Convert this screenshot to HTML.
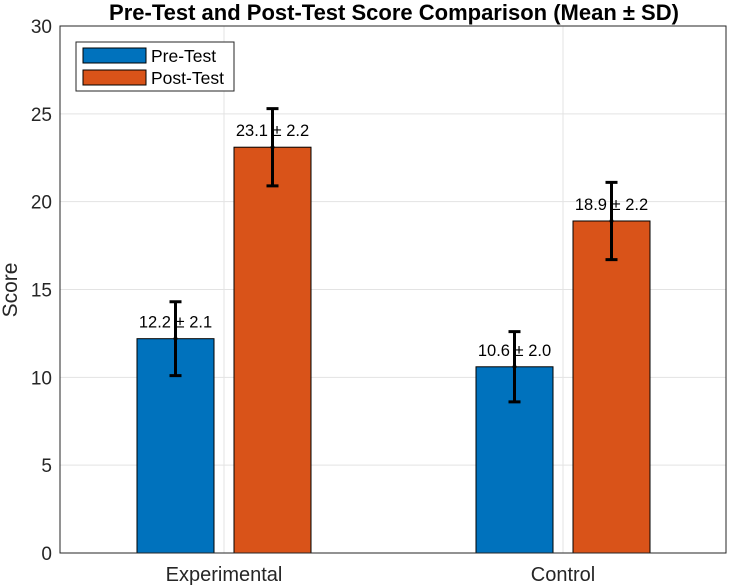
<!DOCTYPE html>
<html><head><meta charset="utf-8"><style>
html,body{margin:0;padding:0;background:#fff;}
svg{display:block;font-family:"Liberation Sans",Arial,sans-serif;}
</style></head><body>
<svg id="chart" width="729" height="587" viewBox="0 0 729 587"></svg>
<script>
const categories = ["Experimental", "Control"];
const seriesNames = ["Pre-Test", "Post-Test"];
const preMeans = [12.2, 10.6];
const postMeans = [23.1, 18.9];
const preSD = [2.1, 2.0];
const postSD = [2.2, 2.2];
const yTicks = [0, 5, 10, 15, 20, 25, 30];

const NS = "http://www.w3.org/2000/svg";
const svg = document.getElementById("chart");
const L = 60, R = 726, T = 26, B = 553;
const yMax = 30;
const y = v => B - v / yMax * (B - T);
const xCat = i => 224 + i * 339;
const barOff = 48.5, barW = 77;
const colors = ["#0072BD", "#D95319"];

function mk(tag, attrs, text) {
  const e = document.createElementNS(NS, tag);
  for (const k in attrs) e.setAttribute(k, attrs[k]);
  if (text !== undefined) e.textContent = text;
  svg.appendChild(e);
  return e;
}

const bg = mk("rect", {x: L, y: T, width: R - L, height: B - T, fill: "#fff"});



yTicks.forEach(t => {
  const g = mk("line", {x1: L, x2: R, y1: y(t), y2: y(t), stroke: "#e3e3e3", "stroke-width": 1});
  
  
  const lb = mk("text", {x: L - 8, y: y(t) + 7, "text-anchor": "end", "font-size": 19, fill: "#262626"}, String(t));
  
  
});
categories.forEach((c, i) => {
  const g = mk("line", {x1: xCat(i), x2: xCat(i), y1: T, y2: B, stroke: "#e3e3e3", "stroke-width": 1});
  
  
  const lb = mk("text", {x: xCat(i), y: B + 28, "text-anchor": "middle", "font-size": 20, fill: "#262626"}, c);
  
  
});

const series = [preMeans, postMeans];
const sds = [preSD, postSD];
series.forEach((vals, s) => {
  vals.forEach((v, i) => {
    const cx = xCat(i) + (s === 0 ? -barOff : barOff);
    const r = mk("rect", {x: cx - barW / 2, y: y(v), width: barW, height: B - y(v), fill: colors[s], stroke: "#000", "stroke-width": 1});
    
    
  });
});
series.forEach((vals, s) => {
  vals.forEach((v, i) => {
    const cx = xCat(i) + (s === 0 ? -barOff : barOff);
    const sd = sds[s][i];
    const lb = mk("text", {x: cx, y: y(v) - 11, "text-anchor": "middle", "font-size": 16.5, fill: "#000"}, v.toFixed(1) + " ± " + sd.toFixed(1));
    
    
  });
});
series.forEach((vals, s) => {
  vals.forEach((v, i) => {
    const cx = xCat(i) + (s === 0 ? -barOff : barOff);
    const sd = sds[s][i];
    const top = y(v + sd), bot = y(v - sd);
    const eb = mk("path", {d: `M${cx},${top}V${bot}M${cx-6},${top}H${cx+6}M${cx-6},${bot}H${cx+6}`, stroke: "#000", "stroke-width": 3, fill: "none"});
    
    
    const d = mk("circle", {cx: cx, cy: y(v), r: 2, fill: "#000"});
    
    
  });
});

const box = mk("rect", {x: L, y: T, width: R - L, height: B - T, fill: "none", stroke: "#262626", "stroke-width": 1});



const title = mk("text", {x: 394, y: 20, "text-anchor": "middle", "font-size": 22, "font-weight": "bold", fill: "#000"}, "Pre-Test and Post-Test Score Comparison (Mean ± SD)");


const yl = mk("text", {x: 0, y: 0, transform: "translate(17,290) rotate(-90)", "text-anchor": "middle", "font-size": 21, fill: "#262626"}, "Score");



const lg = mk("rect", {x: 76, y: 42, width: 158, height: 49, fill: "#fff", stroke: "#262626", "stroke-width": 1});


seriesNames.forEach((n, s) => {
  const yy = 48 + s * 22;
  const sw = mk("rect", {x: 83, y: yy, width: 63, height: 15, fill: colors[s], stroke: "#000", "stroke-width": 1});
  
  
  const t = mk("text", {x: 151, y: yy + 14, "font-size": 17.5, fill: "#000"}, n);
  
  
});
</script>
</body></html>
